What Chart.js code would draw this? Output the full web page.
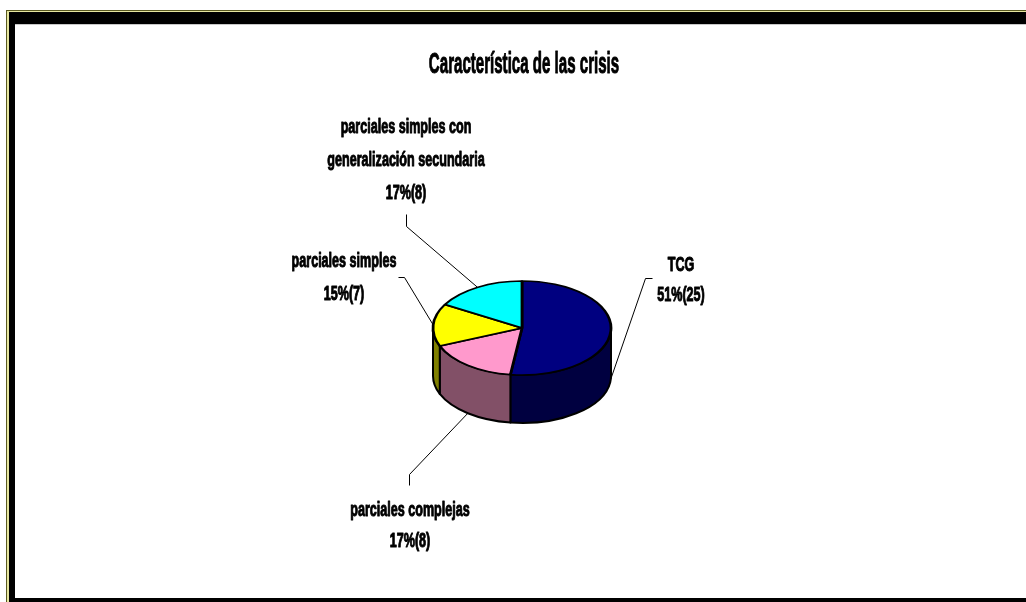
<!DOCTYPE html>
<html>
<head>
<meta charset="utf-8">
<script src="https://cdn.jsdelivr.net/npm/chart.js@4/dist/chart.umd.min.js"></script>
<style>
  html, body { margin: 0; padding: 0; background: #fff; }
  canvas { display: block; }
</style>
</head>
<body>
<canvas id="myChart" width="1026" height="602"></canvas>
<script>
const chartTitle = 'Característica de las crisis';
const categoryLines = [
  ['TCG'],
  ['parciales complejas'],
  ['parciales simples'],
  ['parciales simples con', 'generalización secundaria']
];
const categories = categoryLines.map(l => l.join(' '));
const counts = [25, 8, 7, 8];
const percentLabels = ['51%', '17%', '15%', '17%'];

const topColors = ['#000080', '#FF99CC', '#FFFF00', '#00FFFF'];
const sideColors = ['#000040', '#825067', '#808000', '#008080'];

// where each label sits, relative to the pie centre
const labelLayout = [
  { dx: 159, dy: -57, gap: 30, elbow: [[130, -50], [123, -50]] },
  { dx: -112, dy: 188, gap: 31, elbow: [[-113, 157], [-113, 146]] },
  { dx: -178, dy: -61, gap: 33, elbow: [[-124, -51], [-118, -51]] },
  { dx: -116, dy: -195.5, gap: 33.3, elbow: [[-116, -114], [-116, -102]] }
];
const tilt = 0.528;
const depth = 48;

function stretchedText(ctx, str, x, y, size, sx) {
  ctx.save();
  ctx.translate(x, y);
  ctx.scale(sx, 1);
  ctx.font = 'bold ' + size + 'px "Liberation Sans", Arial, sans-serif';
  ctx.textAlign = 'center';
  ctx.textBaseline = 'alphabetic';
  ctx.fillStyle = '#000';
  ctx.strokeStyle = '#000';
  ctx.lineWidth = 1;
  ctx.lineJoin = 'round';
  ctx.fillText(str, 0, 0);
  ctx.strokeText(str, 0, 0);
  ctx.restore();
}

const framePlugin = {
  id: 'frame',
  beforeDraw(chart) {
    const ctx = chart.ctx, w = chart.width, h = chart.height;
    ctx.save();
    ctx.fillStyle = '#fff';
    ctx.fillRect(0, 0, w, h);
    ctx.fillStyle = '#5a5a20';
    ctx.fillRect(6, 10, w - 6, 1);
    ctx.fillRect(6, 10, 1, h - 10);
    ctx.fillStyle = '#e6e6a0';
    ctx.fillRect(7, 11, w - 7, 1);
    ctx.fillRect(7, 11, 2, h - 11);
    ctx.fillStyle = '#000';
    ctx.fillRect(9, 12, w - 9, 12);
    ctx.fillRect(9, 12, 6, h - 12);
    ctx.fillRect(9, h - 4, w - 9, 4);
    ctx.fillStyle = '#c8c8c8';
    ctx.fillRect(15, 24, w - 15, 1);
    ctx.restore();
  }
};

const pie3dPlugin = {
  id: 'pie3d',
  beforeDatasetsDraw(chart) {
    const ctx = chart.ctx;
    const arcs = chart.getDatasetMeta(0).data;
    const cx = arcs[0].x, cy = arcs[0].y, rx = arcs[0].outerRadius, ry = rx * tilt;
    ctx.save();
    ctx.lineWidth = 2;
    ctx.strokeStyle = '#000';
    ctx.lineJoin = 'round';
    arcs.forEach((arc, i) => {
      const s = Math.max(arc.startAngle, 0);
      const e = Math.min(arc.endAngle, Math.PI);
      if (e <= s) return;
      ctx.beginPath();
      ctx.ellipse(cx, cy, rx, ry, 0, s, e);
      ctx.ellipse(cx, cy + depth, rx, ry, 0, e, s, true);
      ctx.closePath();
      ctx.fillStyle = sideColors[i];
      ctx.fill();
      ctx.stroke();
    });
    ctx.restore();
    ctx.save();
    ctx.translate(cx, cy);
    ctx.scale(1, tilt);
    ctx.translate(-cx, -cy);
  },
  afterDatasetsDraw(chart) {
    chart.ctx.restore();
  }
};

const labelsPlugin = {
  id: 'sliceLabels',
  afterDraw(chart) {
    const ctx = chart.ctx;
    const arcs = chart.getDatasetMeta(0).data;
    const cx = arcs[0].x, cy = arcs[0].y, rx = arcs[0].outerRadius, ry = rx * tilt;
    stretchedText(ctx, chartTitle, cx + 2, 73, 29, 0.52);
    arcs.forEach((arc, i) => {
      const mid = (arc.startAngle + arc.endAngle) / 2;
      const ax = cx + rx * Math.cos(mid);
      const ay = cy + ry * Math.sin(mid) + (Math.sin(mid) > 0 ? depth : 0);
      const lay = labelLayout[i];
      ctx.save();
      ctx.strokeStyle = '#000';
      ctx.lineWidth = 1;
      ctx.beginPath();
      ctx.moveTo(cx + lay.elbow[0][0] + 0.5, cy + lay.elbow[0][1] + 0.5);
      ctx.lineTo(cx + lay.elbow[1][0] + 0.5, cy + lay.elbow[1][1] + 0.5);
      ctx.lineTo(ax, ay);
      ctx.stroke();
      ctx.restore();
      const lines = categoryLines[i].concat([percentLabels[i] + '(' + counts[i] + ')']);
      lines.forEach((t, k) => {
        stretchedText(ctx, t, cx + lay.dx, cy + lay.dy + k * lay.gap, 19.5, 0.645);
      });
    });
  }
};

const ctx = document.getElementById('myChart');
if (ctx) {
  new Chart(ctx, {
    type: 'pie',
    data: {
      labels: categories,
      datasets: [{
        data: counts,
        backgroundColor: topColors,
        borderColor: '#000',
        borderWidth: 2.8,
        radius: 89
      }]
    },
    options: {
      responsive: false,
      animation: false,
      events: [],
      layout: { padding: { left: 18, right: 0, top: 54, bottom: 0 } },
      plugins: {
        legend: { display: false },
        tooltip: { enabled: false },
        title: { display: false }
      }
    },
    plugins: [framePlugin, pie3dPlugin, labelsPlugin]
  });
}
</script>
</body>
</html>
